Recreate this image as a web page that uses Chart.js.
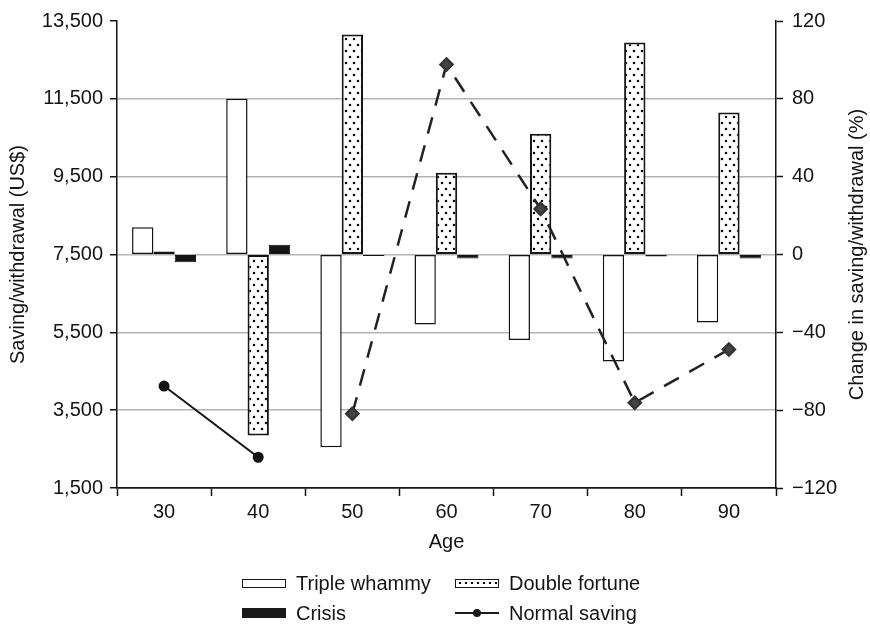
<!DOCTYPE html>
<html>
<head>
<meta charset="utf-8">
<script src="https://cdn.jsdelivr.net/npm/chart.js@4"></script>
<style>
  html, body { margin:0; padding:0; background:#fff; }
  #wrap { position:relative; width:870px; height:625px; }
  #c { position:absolute; left:0; top:0; }
  .li { position:absolute; display:flex; align-items:center; height:24px;
        font:20px "Liberation Sans", Arial, sans-serif; color:#141414; white-space:nowrap; }
  .sw { width:44px; height:9px; box-sizing:border-box; margin-right:10px; flex:none; }
  .sw.tw { border:1.5px solid #1a1a1a; background:#fff; }
  .sw.cr { background:#1a1a1a; height:10px; }
  .sw.df { border:1.5px solid #1a1a1a; background-color:#fff;
           background-image:radial-gradient(circle, #000 0.9px, rgba(0,0,0,0) 1.3px);
           background-size:6px 6px; background-position:1px 0; }
  .sw.ns { position:relative; height:12px; }
  .sw.ns .ln { position:absolute; left:0; right:0; top:5px; height:2px; background:#1a1a1a; }
  .sw.ns .dt { position:absolute; left:18px; top:2px; width:8px; height:8px; border-radius:50%; background:#1a1a1a; }
</style>
</head>
<body>
<div id="wrap">
  <canvas id="c" width="870" height="625"></canvas>
  <div class="li" style="left:242px; top:571px;"><div class="sw tw"></div><span>Triple whammy</span></div>
  <div class="li" style="left:455px; top:571px;"><div class="sw df"></div><span>Double fortune</span></div>
  <div class="li" style="left:242px; top:601px;"><div class="sw cr"></div><span>Crisis</span></div>
  <div class="li" style="left:455px; top:601px;"><div class="sw ns"><div class="ln"></div><div class="dt"></div></div><span>Normal saving</span></div>
</div>
<script>
// ---- data ----
const ages = ['30', '40', '50', '60', '70', '80', '90'];
const tripleWhammy = [14, 80, -99, -36, -44, -55, -35];      // % change (right axis)
const doubleFortune = [1.5, -93, 113, 42, 62, 109, 73];       // % change (right axis)
const crisis = [-4, 5, -0.8, -2, -2, -1, -2];                 // % change (right axis)
const normalSaving = [4120, 2290, null, null, null, null, null];          // US$ (left axis), solid
const normalSavingLater = [null, null, 3410, 12380, 8670, 3690, 5060];    // US$ (left axis), dashed
const leftTicks = [1500, 3500, 5500, 7500, 9500, 11500, 13500];
const rightTicks = [-120, -80, -40, 0, 40, 80, 120];
const leftTitle = 'Saving/withdrawal (US$)';
const rightTitle = 'Change in saving/withdrawal (%)';

// ---- styles ----
const INK = '#141414';
const GRID = '#b3b3b3';
const FONT = { family: '"Liberation Sans", Arial, sans-serif', size: 20 };

function dotPattern() {
  const p = document.createElement('canvas');
  p.width = 8; p.height = 12;
  const g = p.getContext('2d');
  g.fillStyle = '#fff';
  g.fillRect(0, 0, 8, 12);
  g.fillStyle = '#000';
  g.beginPath(); g.arc(2, 3, 1.25, 0, Math.PI * 2); g.fill();
  g.beginPath(); g.arc(6, 9, 1.25, 0, Math.PI * 2); g.fill();
  return document.getElementById('c').getContext('2d').createPattern(p, 'repeat');
}

const fmtLeft = v => Number(v).toLocaleString('en-US');
const fmtRight = v => (v < 0 ? '\u2212' + Math.abs(v) : String(v));

// right-axis title reading bottom-to-top
const rightTitlePlugin = {
  id: 'rightTitle',
  afterDraw(chart) {
    const { ctx, chartArea } = chart;
    ctx.save();
    ctx.translate(857, (chartArea.top + chartArea.bottom) / 2);
    ctx.rotate(-Math.PI / 2);
    ctx.font = FONT.size + 'px ' + FONT.family;
    ctx.fillStyle = INK;
    ctx.textAlign = 'center';
    ctx.textBaseline = 'middle';
    ctx.fillText(rightTitle, 0, 0);
    ctx.restore();
  }
};

new Chart(document.getElementById('c'), {
  data: {
    labels: ages,
    datasets: [
      { type: 'line', label: 'Normal saving', data: normalSaving, yAxisID: 'y',
        borderColor: INK, borderWidth: 2, pointRadius: 4.5, pointBackgroundColor: INK,
        pointBorderColor: INK, spanGaps: false, order: 0 },
      { type: 'line', label: 'Normal saving (later ages)', data: normalSavingLater, yAxisID: 'y',
        borderColor: '#222', borderWidth: 2.5, borderDash: [17, 12], pointStyle: 'rectRot',
        pointRadius: 6, pointBackgroundColor: '#444', pointBorderColor: '#333', spanGaps: false, order: 0 },
      { type: 'bar', label: 'Triple whammy', data: tripleWhammy, yAxisID: 'y2',
        backgroundColor: '#fff', borderColor: INK, borderWidth: 1.5, borderSkipped: false, order: 1 },
      { type: 'bar', label: 'Double fortune', data: doubleFortune, yAxisID: 'y2',
        backgroundColor: dotPattern(), borderColor: INK, borderWidth: 2, borderSkipped: false, order: 1 },
      { type: 'bar', label: 'Crisis', data: crisis, yAxisID: 'y2',
        backgroundColor: INK, borderColor: INK, borderWidth: 1, borderSkipped: false, order: 1 }
    ]
  },
  options: {
    responsive: false,
    animation: false,
    events: [],
    datasets: { bar: { categoryPercentage: 0.68, barPercentage: 1.0 } },
    layout: { padding: { top: 15, bottom: 71, left: 0, right: 0 } },
    plugins: { legend: { display: false }, tooltip: { enabled: false } },
    scales: {
      x: {
        type: 'category', offset: true,
        grid: { offset: true, drawOnChartArea: false, drawTicks: true, tickLength: 8, tickColor: INK, tickWidth: 1.5 },
        border: { color: INK, width: 1.5 },
        ticks: { font: FONT, color: INK, padding: 4, maxRotation: 0 },
        title: { display: true, text: 'Age', font: FONT, color: INK, padding: { top: 0, bottom: 0 } },
        afterFit: s => { s.height = 66; }
      },
      y: {
        position: 'left', min: 1500, max: 13500,
        afterBuildTicks: s => { s.ticks = leftTicks.map(v => ({ value: v })); },
        ticks: { font: FONT, color: INK, padding: 7, callback: fmtLeft },
        grid: { color: c => (c.tick && c.tick.value === 13500 ? 'rgba(0,0,0,0)' : (c.tick && c.tick.value === 1500 ? INK : GRID)),
                lineWidth: 1.5, drawTicks: true, tickLength: 7, tickColor: INK, tickWidth: 1.5 },
        border: { color: INK, width: 1.5 },
        title: { display: true, text: leftTitle, font: FONT, color: INK, padding: { top: 6, bottom: 0 } },
        afterFit: s => { s.width = 117; }
      },
      y2: {
        position: 'right', min: -120, max: 120,
        afterBuildTicks: s => { s.ticks = rightTicks.map(v => ({ value: v })); },
        ticks: { font: FONT, color: INK, padding: 9, callback: fmtRight },
        grid: { drawOnChartArea: false, drawTicks: true, tickLength: 7, tickColor: INK, tickWidth: 1.5 },
        border: { color: INK, width: 1.5 },
        title: { display: false, text: rightTitle },
        afterFit: s => { s.width = 94; }
      }
    }
  },
  plugins: [rightTitlePlugin]
});
</script>
</body>
</html>
